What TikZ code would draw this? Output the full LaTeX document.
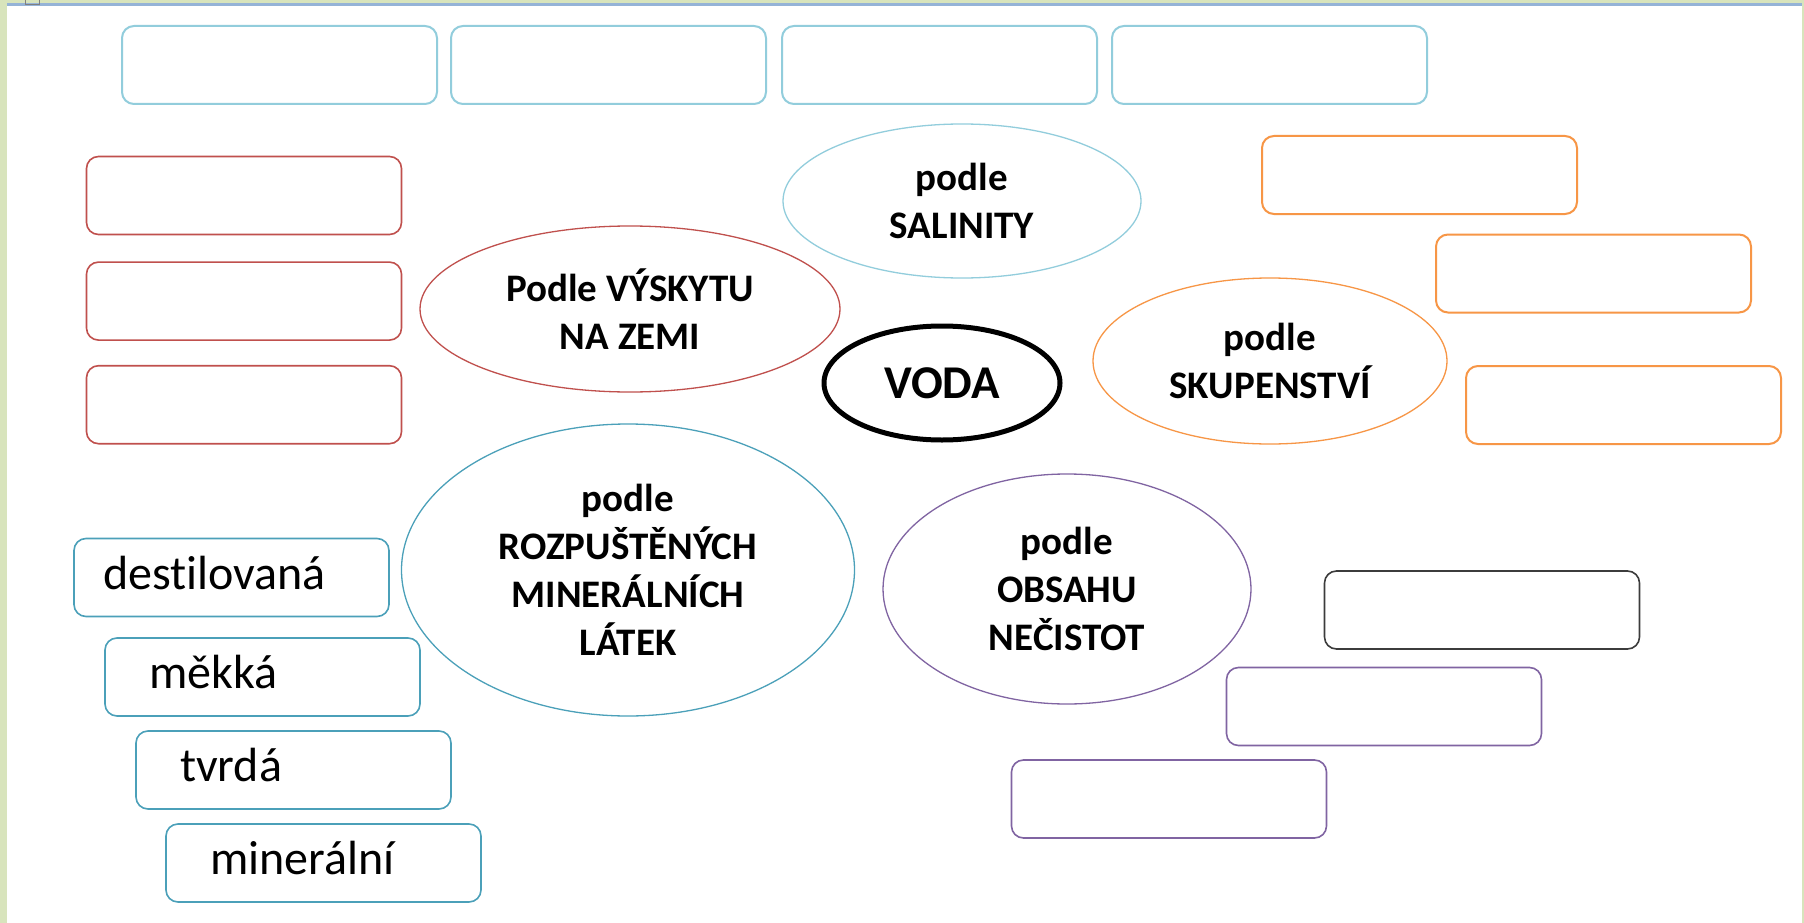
\documentclass[tikz,border=0pt]{standalone}
\usepackage{fontspec}
\setmainfont{Carlito}[Ligatures=NoCommon]
\usetikzlibrary{shapes.geometric, positioning}

\definecolor{svetlemodra}{RGB}{146,205,220}
\definecolor{cervena}{RGB}{192,80,77}
\definecolor{oranzova}{RGB}{247,150,70}
\definecolor{tyrkys}{RGB}{75,160,185}
\definecolor{fialova}{RGB}{128,100,162}
\definecolor{tmava}{RGB}{60,60,60}
\definecolor{zelena}{RGB}{216,228,188}
\definecolor{linka}{RGB}{149,179,215}

\tikzset{
  kartka/.style={draw, rounded corners=12pt, minimum width=315pt, minimum height=78pt, inner sep=0pt, line width=1.6pt},
  popis/.style={kartka, align=left, text height=33pt, text depth=10pt, font=\fontsize{48}{56}\selectfont},
  elipsa/.style={ellipse, draw, inner sep=0pt, align=center, line width=1.3pt, font=\bfseries\fontsize{39}{48}\selectfont}
}

\begin{document}
\begin{tikzpicture}[x=1pt, y=-1pt]
      \useasboundingbox (0,0) rectangle (1804,923);
      % okraj stranky
      \fill[zelena] (0,0) rectangle (1804,923);
      \fill[white] (7,6) rectangle (1802,923);
      \fill[linka] (7,3) rectangle (1802,6);
      \draw[gray, line width=1pt] (25,-2) rectangle (39,5);

      % horni rada
      \node[kartka, draw=svetlemodra, line width=2pt] (s1) at (279.5,65) {};
      \node[kartka, draw=svetlemodra, line width=2pt] (s2) [right=12pt of s1] {};
      \node[kartka, draw=svetlemodra, line width=2pt] (s3) [right=14pt of s2] {};
      \node[kartka, draw=svetlemodra, line width=2pt] (s4) [right=13pt of s3] {};

      % vyskyt na Zemi
      \node[kartka, draw=cervena] (r1) at (244,195.5) {};
      \node[kartka, draw=cervena] (r2) [below=26pt of r1] {};
      \node[kartka, draw=cervena] (r3) [below=24pt of r2] {};

      % skupenstvi
      \node[kartka, draw=oranzova, line width=2pt] (o1) at (1419.5,175) {};
      \node[kartka, draw=oranzova, line width=2pt] (o2) at (1593.5,273.5) {};
      \node[kartka, draw=oranzova, line width=2pt] (o3) at (1623.5,405) {};

      % mineralni latky
      \node[popis, draw=tyrkys, text width=257pt, inner xsep=29pt] (t1) at (231.5,577.5) {destilovaná};
      \node[popis, draw=tyrkys, text width=227pt, inner xsep=44pt] (t2) at (262.5,677) {měkká};
      \node[popis, draw=tyrkys, text width=227pt, inner xsep=44pt] (t3) at (293.5,770) {tvrdá};
      \node[popis, draw=tyrkys, text width=227pt, inner xsep=44pt] (t4) at (323.5,863) {minerální};

      % necistoty
      \node[kartka, draw=tmava] (n1) at (1482,610) {};
      \node[kartka, draw=fialova] (n2) at (1384,706.5) {};
      \node[kartka, draw=fialova] (n3) at (1169,799) {};

      % elipsy
      \node[elipsa, draw=cervena, minimum width=420pt, minimum height=166pt] (vyskyt) at (630,309) {Podle VÝSKYTU\\NA ZEMI};
      \node[elipsa, draw=svetlemodra, minimum width=358pt, minimum height=154pt] (salinita) at (962,201) {podle\\SALINITY};
      \node[elipsa, draw=black, line width=5pt, minimum width=236pt, minimum height=114pt, font=\bfseries\fontsize{47}{52}\selectfont] (voda) at (942,383) {VODA};
      \node[elipsa, draw=oranzova, minimum width=354pt, minimum height=166pt] (skupenstvi) at (1270,361) {podle\\SKUPENSTVÍ};
      \node[elipsa, draw=tyrkys, minimum width=453pt, minimum height=292pt] (rozpustene) at (628,570) {podle\\ROZPUŠTĚNÝCH\\MINERÁLNÍCH\\LÁTEK};
      \node[elipsa, draw=fialova, minimum width=368pt, minimum height=230pt] (necistoty) at (1067,589) {podle\\OBSAHU\\NEČISTOT};
\end{tikzpicture}
\end{document}
